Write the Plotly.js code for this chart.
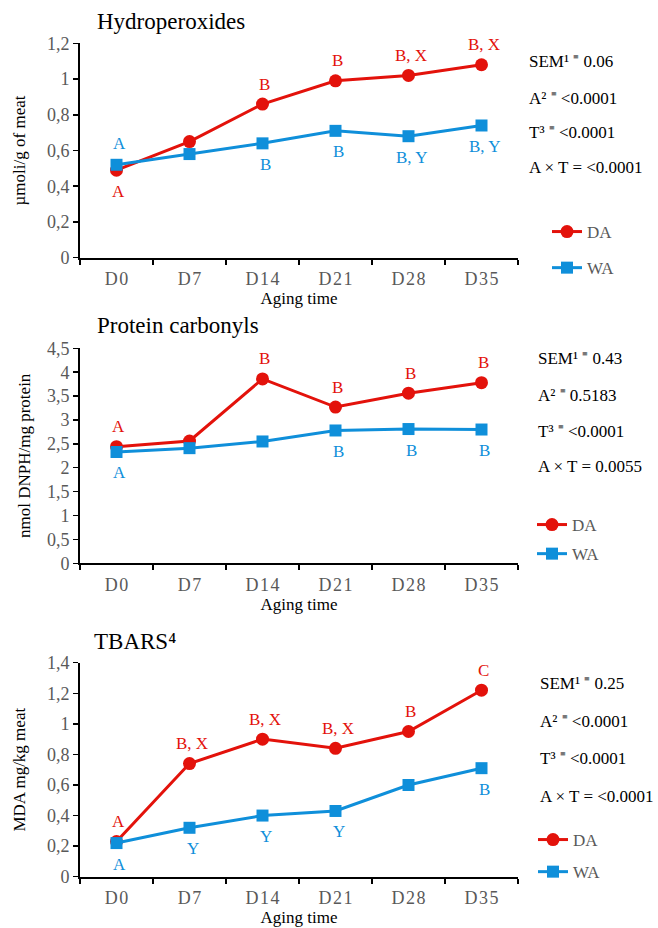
<!DOCTYPE html>
<html>
<head>
<meta charset="utf-8">
<script src="https://cdn.plot.ly/plotly-3.0.1.min.js"></script>
<style>html,body{margin:0;padding:0;background:#fff;}#chart{width:658px;height:928px;}</style>
</head>
<body>
<div id="chart"></div>
<script>
// ---------- data ----------
const categories = ['D0', 'D7', 'D14', 'D21', 'D28', 'D35'];
const tickLabels = ['D\u200A0', 'D\u200A7', 'D\u200A1\u200A4', 'D\u200A2\u200A1', 'D\u200A2\u200A8', 'D\u200A3\u200A5'];

const hydroDA = [0.49, 0.65, 0.86, 0.99, 1.02, 1.08];
const hydroWA = [0.52, 0.58, 0.64, 0.71, 0.68, 0.74];
const hydroDALetters = ['A', '', 'B', 'B', 'B, X', 'B, X'];
const hydroWALetters = ['A', '', 'B', 'B', 'B, Y', 'B, Y'];
const hydroStats = ['SEM¹ ⁼ 0.06', 'A² ⁼ &lt;0.0001', 'T³ ⁼ &lt;0.0001', 'A × T = &lt;0.0001'];

const carbDA = [2.44, 2.56, 3.86, 3.27, 3.56, 3.78];
const carbWA = [2.33, 2.41, 2.55, 2.78, 2.81, 2.80];
const carbDALetters = ['A', '', 'B', 'B', 'B', 'B'];
const carbWALetters = ['A', '', '', 'B', 'B', 'B'];
const carbStats = ['SEM¹ ⁼ 0.43', 'A² ⁼ 0.5183', 'T³ ⁼ &lt;0.0001', 'A × T = 0.0055'];

const tbarsDA = [0.23, 0.74, 0.90, 0.84, 0.95, 1.22];
const tbarsWA = [0.22, 0.32, 0.40, 0.43, 0.60, 0.71];
const tbarsDALetters = ['A', 'B, X', 'B, X', 'B, X', 'B', 'C'];
const tbarsWALetters = ['A', 'Y', 'Y', 'Y', '', 'B'];
const tbarsStats = ['SEM¹ ⁼ 0.25', 'A² ⁼ &lt;0.0001', 'T³ ⁼ &lt;0.0001', 'A × T = &lt;0.0001'];

const panelTitles = ['Hydroperoxides', 'Protein carbonyls', 'TBARS⁴'];
const yTitles = ['µmoli/g of meat', 'nmol DNPH/mg protein', 'MDA mg/kg meat'];
const seriesNames = ['DA', 'WA'];

// ---------- layout config ----------
const W = 658, H = 928;
const RED = '#E3120B', BLUE = '#0F8FDA', GREY = '#595959';
const FONT = 'Liberation Serif, Times New Roman, serif';
const px = v => v / W;
const py = v => 1 - v / H;

const panels = [
  { title: panelTitles[0], ytitle: yTitles[0], da: hydroDA, wa: hydroWA, daL: hydroDALetters, waL: hydroWALetters,
    stats: hydroStats, range: [0, 1.2], dtick: 0.2, top: 43.3, bottom: 257.7, titleY: 22, titleX: 95,
    statsX: 527, statsY: [62, 98, 132, 168], legX: 547, legY: 214, legGap: 11, ystand: 17, xstand: 0, flipFirst: true },
  { title: panelTitles[1], ytitle: yTitles[1], da: carbDA, wa: carbWA, daL: carbDALetters, waL: carbWALetters,
    stats: carbStats, range: [0, 4.5], dtick: 0.5, top: 348.3, bottom: 563.3, titleY: 326, titleX: 95,
    statsX: 536, statsY: [358, 395, 431, 467], legX: 532, legY: 507, legGap: 4, ystand: 12, xstand: 0, flipFirst: false },
  { title: panelTitles[2], ytitle: yTitles[2], da: tbarsDA, wa: tbarsWA, daL: tbarsDALetters, waL: tbarsWALetters,
    stats: tbarsStats, range: [0, 1.4], dtick: 0.2, top: 662.7, bottom: 876.7, titleY: 641, titleX: 92,
    statsX: 538, statsY: [683, 721, 758, 796], legX: 533, legY: 822, legGap: 7, ystand: 17, xstand: 4, flipFirst: false }
];

const traces = [];
const annotations = [];
const layout = {
  width: W, height: H,
  margin: { l: 0, r: 0, t: 0, b: 0 },
  paper_bgcolor: '#fff', plot_bgcolor: '#fff',
  separators: ', ',
  font: { family: FONT, size: 16, color: GREY },
  showlegend: true
};

panels.forEach((p, i) => {
  const n = i + 1;
  const xa = n === 1 ? 'x' : 'x' + n;
  const ya = n === 1 ? 'y' : 'y' + n;
  const legName = n === 1 ? 'legend' : 'legend' + n;

  traces.push({
    type: 'scatter', mode: 'lines+markers', name: seriesNames[0],
    x: categories, y: p.da, xaxis: xa, yaxis: ya, legend: legName, legendgroup: 'da' + n,
    line: { color: RED, width: 3 },
    marker: { symbol: 'circle', size: 13, color: RED },
    cliponaxis: false
  });
  traces.push({
    type: 'scatter', mode: 'lines+markers', name: seriesNames[1],
    x: categories, y: p.wa, xaxis: xa, yaxis: ya, legend: legName, legendgroup: 'wa' + n,
    line: { color: BLUE, width: 3 },
    marker: { symbol: 'square', size: 12, color: BLUE },
    cliponaxis: false
  });

  layout['xaxis' + (n === 1 ? '' : n)] = {
    domain: [px(80), px(518)], anchor: ya,
    type: 'category', range: [-0.5, 5.5],
    tickmode: 'array', tickvals: categories, ticktext: tickLabels,
    tickson: 'boundaries', ticks: 'outside', ticklen: 5, tickwidth: 1.5, tickcolor: '#000',
    ticklabelstandoff: 4,
    showline: true, linecolor: '#000', linewidth: 2,
    showgrid: false, zeroline: false,
    tickfont: { family: FONT, size: 18, color: GREY },
    title: { text: 'Aging time', font: { family: FONT, size: 17, color: '#000' }, standoff: p.xstand },
    fixedrange: true
  };
  layout['yaxis' + (n === 1 ? '' : n)] = {
    domain: [py(p.bottom), py(p.top)], anchor: xa,
    range: p.range, dtick: p.dtick, tick0: 0,
    ticks: 'outside', ticklen: 5, tickwidth: 1.5, tickcolor: '#000',
    showline: true, linecolor: '#000', linewidth: 2,
    showgrid: false, zeroline: false,
    tickfont: { family: FONT, size: 18, color: GREY },
    title: { text: p.ytitle, font: { family: FONT, size: 17, color: '#000' }, standoff: p.ystand },
    fixedrange: true
  };
  layout[legName] = {
    x: px(p.legX), y: py(p.legY), xanchor: 'left', yanchor: 'top',
    xref: 'paper', yref: 'paper',
    traceorder: 'grouped', tracegroupgap: p.legGap,
    bgcolor: 'rgba(0,0,0,0)', borderwidth: 0,
    font: { family: FONT, size: 17, color: GREY }
  };

  // panel title
  annotations.push({
    xref: 'paper', yref: 'paper', x: px(p.titleX), y: py(p.titleY),
    xanchor: 'left', yanchor: 'middle', showarrow: false,
    text: p.title, font: { family: FONT, size: 23, color: '#000' }
  });
  // stats
  p.stats.forEach((s, k) => {
    annotations.push({
      xref: 'paper', yref: 'paper', x: px(p.statsX), y: py(p.statsY[k]),
      xanchor: 'left', yanchor: 'middle', showarrow: false,
      text: s, font: { family: FONT, size: 17, color: '#000' }
    });
  });
  // significance letters
  categories.forEach((c, k) => {
    const flip = p.flipFirst && k === 0;
    if (p.daL[k]) annotations.push({
      xref: xa, yref: ya, x: c, y: p.da[k], showarrow: false,
      yshift: flip ? -21 : 20, xshift: 2,
      text: p.daL[k], font: { family: FONT, size: 17, color: RED }
    });
    if (p.waL[k]) annotations.push({
      xref: xa, yref: ya, x: c, y: p.wa[k], showarrow: false,
      yshift: flip ? 21 : -21, xshift: 3,
      text: p.waL[k], font: { family: FONT, size: 17, color: BLUE }
    });
  });
});

layout.annotations = annotations;

Plotly.newPlot('chart', traces, layout, { displayModeBar: false, staticPlot: true });
</script>
</body>
</html>
